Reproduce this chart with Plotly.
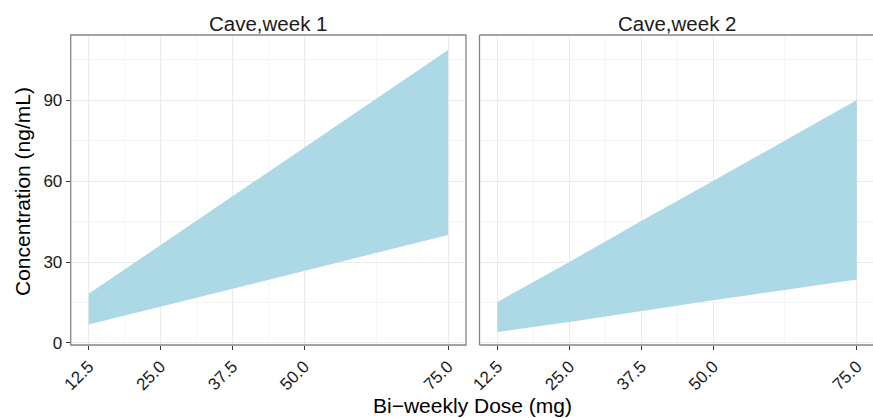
import plotly.graph_objects as go

# ---- data ----
doses = [12.5, 25.0, 37.5, 50.0, 75.0]
week1_lower = [6.8, 13.3, 20.1, 26.7, 40.0]
week1_upper = [18.2, 36.2, 54.3, 72.4, 108.5]
week2_lower = [4.1, 7.8, 11.8, 15.8, 23.5]
week2_upper = [15.2, 30.0, 45.2, 60.0, 90.0]
panel_titles = ["Cave,week 1", "Cave,week 2"]
x_ticks = [12.5, 25.0, 37.5, 50.0, 75.0]
x_tick_labels = ["12.5", "25.0", "37.5", "50.0", "75.0"]
x_minor = [18.75, 31.25, 43.75, 62.5]
y_ticks = [0, 30, 60, 90]
y_minor = [15, 45, 75, 105]

W, H = 873, 418
FONT = "Liberation Sans, Arial, Helvetica, sans-serif"
FILL = "#ADD8E6"
BORDER = "#858585"

# panel geometry in pixels
p1 = (70.7, 466.0)
p2 = (479.5, 873.0)
ptop, pbot = 35.0, 345.0
px_per_unit = (p1[1] - p1[0]) / 68.75

fig = go.Figure()

def ribbon(xaxis, yaxis, lo, hi):
    fig.add_trace(go.Scatter(
        x=doses + doses[::-1], y=hi + lo[::-1],
        xaxis=xaxis, yaxis=yaxis, mode="lines",
        fill="toself", fillcolor=FILL, line=dict(width=0, color=FILL),
        hoverinfo="skip", showlegend=False))

ribbon("x", "y", week1_lower, week1_upper)
ribbon("x2", "y2", week2_lower, week2_upper)

y_range = [-0.75, 114.1]
dom_y = [(H - pbot) / H, (H - ptop) / H]

common_x = dict(
    tickvals=x_ticks, ticktext=x_tick_labels, tickangle=-45,
    ticks="outside", ticklen=4, tickwidth=1, tickcolor="#333333",
    tickfont=dict(family=FONT, size=17, color="#1a1a1a"),
    showgrid=True, gridcolor="#EBEBEB", gridwidth=1,
    minor=dict(tickvals=x_minor, showgrid=True, gridcolor="#F5F5F5", gridwidth=1, ticks=""),
    zeroline=False, showline=False, automargin=False,
)
common_y = dict(
    range=y_range, domain=dom_y, tickvals=y_ticks,
    showgrid=True, gridcolor="#EBEBEB", gridwidth=1,
    minor=dict(tickvals=y_minor, showgrid=True, gridcolor="#F5F5F5", gridwidth=1, ticks=""),
    zeroline=False, showline=False, automargin=False,
)

fig.update_layout(
    width=W, height=H, margin=dict(l=0, r=0, t=0, b=0, pad=0),
    paper_bgcolor="white", plot_bgcolor="white",
    font=dict(family=FONT),
    xaxis=dict(common_x, domain=[p1[0] / W, p1[1] / W], range=[9.375, 78.125], anchor="y"),
    xaxis2=dict(common_x, domain=[p2[0] / W, 1.0],
                range=[9.375, 9.375 + (p2[1] - p2[0]) / px_per_unit], anchor="y2"),
    yaxis=dict(common_y, anchor="x", ticks="outside", ticklen=4, tickwidth=1,
               tickcolor="#333333",
               tickfont=dict(family=FONT, size=17, color="#1a1a1a")),
    yaxis2=dict(common_y, anchor="x2", showticklabels=False, ticks=""),
)

# panel borders
def px(x):
    return x / W

def py(y):
    return (H - y) / H

fig.add_shape(type="rect", xref="paper", yref="paper",
              x0=px(p1[0]), x1=px(p1[1]), y0=py(pbot), y1=py(ptop),
              line=dict(color=BORDER, width=1.3), fillcolor="rgba(0,0,0,0)", layer="above")
for (xa, ya, xb, yb) in [(p2[0], ptop, p2[0], pbot), (p2[0], ptop, p2[1], ptop),
                         (p2[0], pbot, p2[1], pbot)]:
    fig.add_shape(type="line", xref="paper", yref="paper",
                  x0=px(xa), x1=px(xb), y0=py(ya), y1=py(yb),
                  line=dict(color=BORDER, width=1.3), layer="above")

# strip titles
for title, (a, b) in zip(panel_titles, [p1, (p2[0], p2[0] + (p1[1] - p1[0]))]):
    fig.add_annotation(text=title, xref="paper", yref="paper",
                       x=px((a + b) / 2), y=py(23), xanchor="center", yanchor="middle",
                       showarrow=False, font=dict(family=FONT, size=20.5, color="#1a1a1a"))

# axis titles
fig.add_annotation(text="Concentration (ng/mL)", xref="paper", yref="paper",
                   x=px(23), y=py(192), xanchor="center", yanchor="middle", textangle=-90,
                   showarrow=False, font=dict(family=FONT, size=21, color="black"))
fig.add_annotation(text="Bi\u2212weekly Dose (mg)", xref="paper", yref="paper",
                   x=px(472.5), y=py(405), xanchor="center", yanchor="middle",
                   showarrow=False, font=dict(family=FONT, size=21, color="black"))

fig.write_html(
    "out.html",
    config={"displayModeBar": False},
    post_script="document.body.style.margin='0';document.body.style.overflow='hidden';",
)
